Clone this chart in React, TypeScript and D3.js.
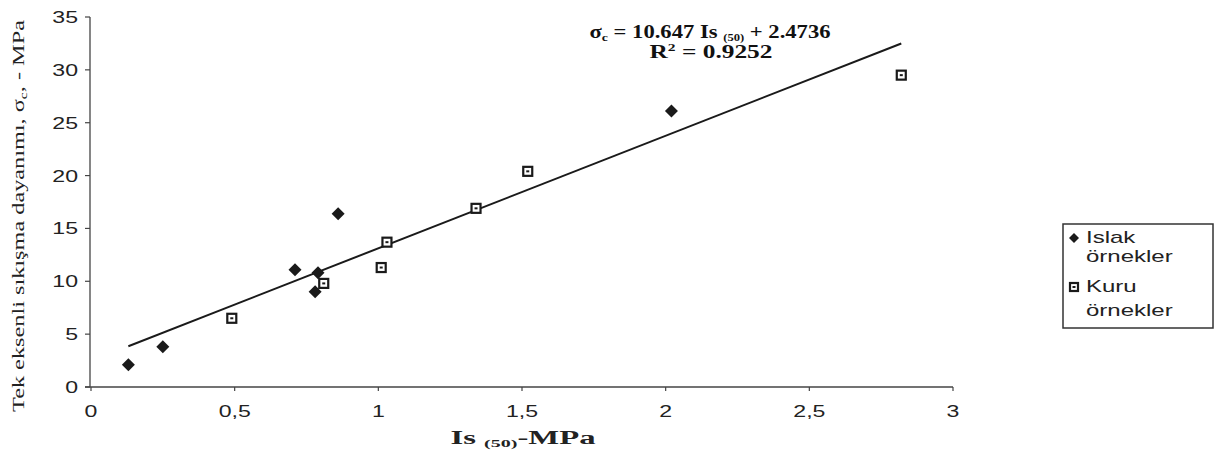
import React from 'react';
import * as d3 from 'd3';

const islakX = [0.13, 0.25, 0.71, 0.78, 0.79, 0.86, 2.02];
const islakY = [2.1, 3.8, 11.1, 9.0, 10.8, 16.4, 26.1];
const kuruX = [0.49, 0.81, 1.01, 1.03, 1.34, 1.52, 2.82];
const kuruY = [6.5, 9.8, 11.3, 13.7, 16.9, 20.4, 29.5];
const trendSlope = 10.647;
const trendIntercept = 2.4736;
const rSquared = '0.9252';
const xTicks = [0, 0.5, 1, 1.5, 2, 2.5, 3];
const yTicks = [0, 5, 10, 15, 20, 25, 30, 35];
const legendLabels = [['Islak', 'örnekler'], ['Kuru', 'örnekler']];

const W = 1216, H = 473;
const INK = '#1a1a1a';
const SANS = '"Liberation Sans", Arial, sans-serif';
const SERIF = '"Liberation Serif", "Times New Roman", serif';

const x = d3.scaleLinear().domain([0, 3]).range([91, 953]);
const y = d3.scaleLinear().domain([0, 35]).range([387, 17]);
const fmt = (v: number) => String(v).replace('.', ',');

function Diamond({ cx, cy, r = 6.5 }: { cx: number; cy: number; r?: number }) {
  return <path d={`M${cx},${cy - r}L${cx + r},${cy}L${cx},${cy + r}L${cx - r},${cy}Z`} fill={INK} />;
}
function Square({ cx, cy, s = 11 }: { cx: number; cy: number; s?: number }) {
  return (
    <g>
      <rect x={cx - s / 2 + 1} y={cy - s / 2 + 1} width={s - 2} height={s - 2} fill="#fff" stroke={INK} strokeWidth={2.2} />
      <rect x={cx - 1.5} y={cy - 1} width={3} height={2} fill={INK} />
    </g>
  );
}

function SText({ tx, ty, anchor, children, size = 16, sx = 1.35 }: any) {
  return (
    <g transform={`translate(${tx},${ty}) scale(${sx},1)`}>
      <text x={0} y={0} textAnchor={anchor} fontFamily={SANS} fontSize={size} fill="#222">{children}</text>
    </g>
  );
}

export default function App() {
  const allX = [...islakX, ...kuruX];
  const x0 = d3.min(allX) as number;
  const x1 = d3.max(allX) as number;
  const line = d3.line<number>().x((d) => x(d)).y((d) => y(trendSlope * d + trendIntercept));
  const axisY = y(0);
  const axisX = x(0) - 1;

  return (
    <svg width={W} height={H} style={{ position: 'absolute', left: 0, top: 0, background: '#fff' }}>
      <rect width={W} height={H} fill="#fff" />
      {/* Y axis */}
      <line x1={axisX} x2={axisX} y1={y(35)} y2={axisY} stroke="#444" strokeWidth={1.3} />
      {yTicks.map((t) => (
        <g key={'yt' + t}>
          <line x1={axisX - 5} x2={axisX} y1={y(t)} y2={y(t)} stroke="#444" strokeWidth={1.2} />
          <SText tx={78} ty={y(t) + 6} anchor="end" size={16.5} sx={1.4}>{fmt(t)}</SText>
        </g>
      ))}
      {/* X axis */}
      <line x1={axisX - 5} x2={x(3)} y1={axisY} y2={axisY} stroke="#444" strokeWidth={1.3} />
      {xTicks.map((t) => (
        <g key={'xt' + t}>
          <line x1={x(t)} x2={x(t)} y1={axisY} y2={axisY + 4} stroke="#444" strokeWidth={1.2} />
          <SText tx={x(t)} ty={417} anchor="middle" size={16.5} sx={1.4}>{fmt(t)}</SText>
        </g>
      ))}
      {/* Axis titles */}
      <text x={523} y={444} textAnchor="middle" fontFamily={SERIF} fontWeight="bold" fontSize={18} fill="#222"
        textLength={145} lengthAdjust="spacingAndGlyphs">
        Is <tspan fontSize={11} dy={3}>(50)</tspan><tspan dy={-3}>-MPa</tspan>
      </text>
      <text transform="translate(24,216) rotate(-90)" textAnchor="middle" fontFamily={SERIF} fontSize={17} fill="#222"
        textLength={392} lengthAdjust="spacingAndGlyphs">
        Tek eksenli sıkışma dayanımı, σ<tspan fontSize={11} dy={3}>c</tspan><tspan dy={-3}>, - MPa</tspan>
      </text>
      {/* Trend line */}
      <path d={line([x0, x1]) || ''} fill="none" stroke={INK} strokeWidth={2} />
      {/* Equation */}
      <text x={710} y={38} textAnchor="middle" fontFamily={SERIF} fontWeight="bold" fontSize={18} fill="#111"
        textLength={241} lengthAdjust="spacingAndGlyphs">
        σ<tspan fontSize={11} dy={3}>c</tspan><tspan dy={-3}> = 10.647 Is </tspan><tspan fontSize={10} dy={3}>(50)</tspan><tspan dy={-3}> + 2.4736</tspan>
      </text>
      <text x={711} y={58} textAnchor="middle" fontFamily={SERIF} fontWeight="bold" fontSize={18} fill="#111"
        textLength={123} lengthAdjust="spacingAndGlyphs">
        R<tspan fontSize={11} dy={-7}>2</tspan><tspan dy={7}> = {rSquared}</tspan>
      </text>
      {/* Points */}
      {kuruX.map((v, i) => <Square key={'k' + i} cx={x(v)} cy={y(kuruY[i])} />)}
      {islakX.map((v, i) => <Diamond key={'i' + i} cx={x(v)} cy={y(islakY[i])} />)}
      {/* Legend */}
      <rect x={1063} y={224} width={150} height={104} fill="#fff" stroke="#333" strokeWidth={1.5} />
      <Diamond cx={1074} cy={238} r={5} />
      <SText tx={1086} ty={243} anchor="start" size={16} sx={1.5}>{legendLabels[0][0]}</SText>
      <SText tx={1086} ty={262} anchor="start" size={16} sx={1.5}>{legendLabels[0][1]}</SText>
      <Square cx={1074} cy={287} s={10} />
      <SText tx={1086} ty={292} anchor="start" size={16} sx={1.5}>{legendLabels[1][0]}</SText>
      <SText tx={1086} ty={316} anchor="start" size={16} sx={1.5}>{legendLabels[1][1]}</SText>
    </svg>
  );
}
